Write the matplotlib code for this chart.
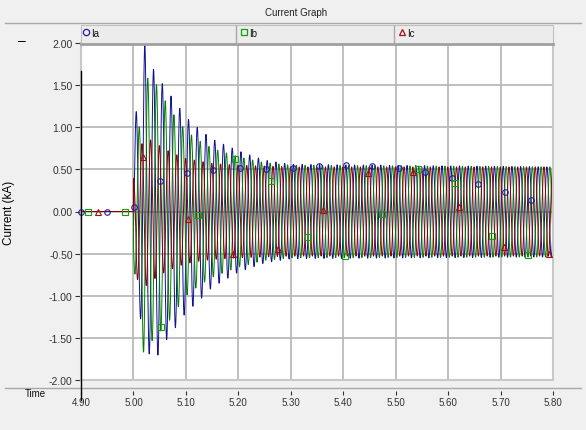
import numpy as np
import matplotlib.pyplot as plt
from matplotlib.lines import Line2D
from matplotlib.patches import Rectangle

# system frequency and fault inception (s)
freq = 60.0
t_fault = 5.00

# envelope knots (kA)
env_t = [5.000, 5.020, 5.040, 5.060, 5.080, 5.100, 5.125, 5.150, 5.200, 5.250, 5.300, 5.800]
ia_pos = [0.90, 2.00, 1.66, 1.47, 1.30, 1.12, 0.98, 0.86, 0.72, 0.61, 0.56, 0.53]
ia_neg = [-0.60, -1.60, -1.78, -1.55, -1.38, -1.20, -1.06, -0.90, -0.72, -0.61, -0.56, -0.54]
ib_pos = [0.30, 1.60, 1.55, 1.32, 1.12, 0.96, 0.84, 0.75, 0.65, 0.58, 0.55, 0.53]
ib_neg = [-0.60, -1.72, -1.48, -1.38, -1.18, -1.00, -0.88, -0.78, -0.66, -0.58, -0.55, -0.54]
ic_pos = [0.40, 0.90, 0.82, 0.74, 0.68, 0.63, 0.60, 0.57, 0.55, 0.54, 0.53, 0.53]
ic_neg = [-0.75, -0.90, -0.80, -0.72, -0.66, -0.62, -0.59, -0.57, -0.55, -0.54, -0.53, -0.53]

# time of a positive peak for each phase
peak_a = 5.0217
peak_b = 5.0273
peak_c = 5.0161

# marker spacing per trace (PSCAD style)
mark_a = np.arange(4.900, 5.80, 0.0505)
mark_b = np.arange(4.913, 5.80, 0.0700)
mark_c = np.arange(4.932, 5.80, 0.0860)

series = ['Ia', 'Ib', 'Ic']
colors = ['#101090', '#008000', '#8c0000']
mcolors = ['#2020a0', '#10a010', '#a01010']
markers = ['o', 's', '^']

yticks = [-2.0, -1.5, -1.0, -0.5, 0.0, 0.5, 1.0, 1.5, 2.0]
xticks = [4.90, 5.00, 5.10, 5.20, 5.30, 5.40, 5.50, 5.60, 5.70, 5.80]

t = np.arange(4.90, 5.80, 1e-4)


def wave(tt, tp, pos, neg):
    c = np.cos(2 * np.pi * freq * (tt - tp))
    p = np.interp(tt, env_t, pos)
    n = np.interp(tt, env_t, neg)
    y = np.where(c >= 0, p * c, -n * c)
    y[tt < t_fault] = 0.0
    return y


plt.rcParams['font.family'] = ['Liberation Sans', 'DejaVu Sans']

W, H = 586, 431
fx = lambda x: x / W
fy = lambda y: 1 - y / H

fig = plt.figure(figsize=(W / 100, H / 100), dpi=100, facecolor='#f0f0f0')
ax = fig.add_axes([fx(81), fy(381), (553 - 81) / W, (381 - 44) / H])
ax.set_facecolor('white')

waves = [(peak_a, ia_pos, ia_neg, mark_a),
         (peak_b, ib_pos, ib_neg, mark_b),
         (peak_c, ic_pos, ic_neg, mark_c)]
for (tp, pos, neg, mk), col, mcol, m in zip(waves, colors, mcolors, markers):
    ax.plot(t, wave(t, tp, pos, neg), color=col, lw=0.7, zorder=2)
    ax.plot(mk, wave(mk, tp, pos, neg), ls='none', marker=m, ms=4, mfc='none',
            mec=mcol, mew=0.8, zorder=3, clip_on=False)

ax.set_xlim(4.90, 5.80)
ax.set_ylim(-2.0, 2.0)
ax.set_yticks(yticks)
ax.set_yticklabels(['%.2f' % v for v in yticks], fontsize=7.5)
ax.set_xticks(xticks)
ax.tick_params(axis='x', length=0, labelbottom=False)
ax.tick_params(axis='y', direction='out', length=4, width=0.8, pad=2, colors='#333333')
ax.grid(True, color='#b4b4b4', lw=1.2)
ax.set_axisbelow(True)
for s in ax.spines.values():
    s.set_color('#c8c8c8')
    s.set_linewidth(1.5)
ax.set_ylabel('Current (kA)', fontsize=8.5)
ax.yaxis.set_label_coords((15 - 81) / (553 - 81), 0.5)

sec = ax.secondary_xaxis((381 - 392) / (381 - 44))
sec.set_xticks(xticks)
sec.set_xticklabels(['%.2f' % v for v in xticks], fontsize=7)
sec.tick_params(direction='out', length=3, width=0.8, pad=1, colors='#333333')
sec.spines['bottom'].set_visible(False)

# title band and separators
fig.text(fx(296), fy(13), 'Current Graph', fontsize=7, ha='center', va='center', color='#222222')
fig.add_artist(Line2D([fx(5), fx(581)], [fy(24), fy(24)], color='#a8a8a8', lw=1))
fig.add_artist(Line2D([fx(5), fx(581)], [fy(389), fy(389)], color='#a8a8a8', lw=1))

# legend header
fig.add_artist(Rectangle((fx(81), fy(45)), (553 - 81) / W, 19 / H, transform=fig.transFigure,
                         facecolor='#ececec', edgecolor='#c0c0c0', lw=0.8))
fig.add_artist(Line2D([fx(81), fx(553)], [fy(45), fy(45)], color='#a0a0a0', lw=2))
for xd in [236, 394]:
    fig.add_artist(Line2D([fx(xd), fx(xd)], [fy(27), fy(45)], color='#a8a8a8', lw=1))
for x0, name, mcol, m in zip([86, 244, 402], series, mcolors, markers):
    fig.add_artist(Line2D([fx(x0)], [fy(33)], marker=m, ms=4.5, mfc='none', mec=mcol, mew=0.9))
    fig.text(fx(x0 + 5), fy(34), name, fontsize=7, va='center', color='#111111')

# cursor line and misc labels
fig.add_artist(Line2D([fx(81), fx(81)], [fy(72), fy(401)], color='black', lw=1))
fig.text(fx(22), fy(41), '\u2013', fontsize=10, ha='center', va='center')
fig.text(fx(35), fy(394), 'Time', fontsize=7, ha='center', va='center', color='#111111')

fig.savefig('out.png', dpi=100, facecolor=fig.get_facecolor())
